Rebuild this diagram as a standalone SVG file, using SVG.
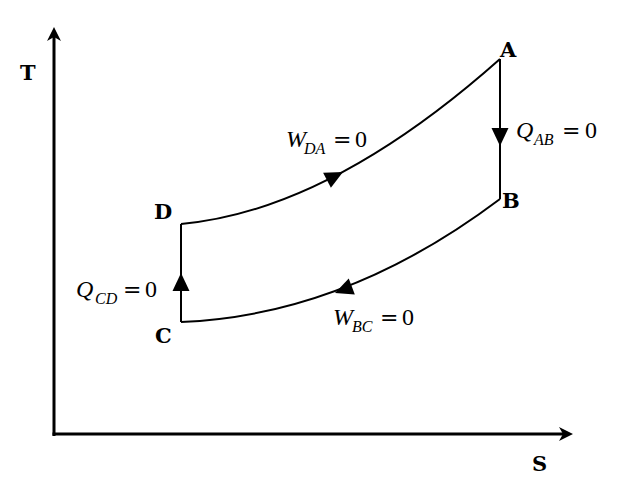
<svg xmlns="http://www.w3.org/2000/svg" width="624" height="496" viewBox="0 0 624 496">
<style>
.axis{stroke:#000;stroke-width:3;fill:none}
.curve{stroke:#000;stroke-width:2;fill:none}
.pt{font-family:"DejaVu Serif","Liberation Serif",serif;font-weight:bold;font-size:21px;fill:#000}
.m{font-family:"Liberation Serif",serif;font-size:24px;fill:#000}
.i{font-style:italic}
.s{font-style:italic;font-size:16px}
.eq{font-family:"DejaVu Serif",serif;font-size:22px}
</style>
<defs>
<path id="ah" d="M0,0 L-18,-8.5 L-18,8.5 Z" fill="#000"/>
<path id="axh" d="M0,0 L-14,-7 L-10,0 L-14,7 Z" fill="#000"/>
</defs>
<g id="axes">
<line class="axis" x1="54" y1="436" x2="54" y2="34"/>
<line class="axis" x1="52.5" y1="434" x2="566" y2="434"/>
<use href="#axh" transform="translate(54,27) rotate(-90)"/>
<use href="#axh" transform="translate(573,434)"/>
<text class="pt" x="20" y="80">T</text>
<text class="pt" x="532" y="471">S</text>
</g>
<g id="connectors">
<path class="curve" d="M181,224 Q329.5,210.5 500,59"/>
<path class="curve" d="M500,59 L500,199"/>
<path class="curve" d="M500,199 Q345.5,315.5 181,322"/>
<path class="curve" d="M181,322 L181,224"/>
<use href="#ah" transform="translate(343,172) rotate(-27.3)"/>
<use href="#ah" transform="translate(500,146) rotate(90)"/>
<use href="#ah" transform="translate(335,293) rotate(158.9)"/>
<use href="#ah" transform="translate(181,273) rotate(-90)"/>
</g>
<g id="node-A"><text class="pt" x="500" y="57">A</text></g>
<g id="node-B"><text class="pt" x="502" y="208">B</text></g>
<g id="node-D"><text class="pt" x="154" y="219">D</text></g>
<g id="node-C"><text class="pt" x="155" y="343">C</text></g>
<g id="label-DA"><text class="m"><tspan class="i" x="286" y="147">W</tspan><tspan class="s" x="304" y="154">DA</tspan><tspan class="eq" x="333" y="147">=</tspan><tspan x="355" y="147">0</tspan></text></g>
<g id="label-AB"><text class="m"><tspan class="i" x="516" y="138">Q</tspan><tspan class="s" x="534" y="145">AB</tspan><tspan class="eq" x="562" y="138">=</tspan><tspan x="585" y="138">0</tspan></text></g>
<g id="label-CD"><text class="m"><tspan class="i" x="76" y="297">Q</tspan><tspan class="s" x="95" y="304">CD</tspan><tspan class="eq" x="123" y="297">=</tspan><tspan x="145" y="297">0</tspan></text></g>
<g id="label-BC"><text class="m"><tspan class="i" x="333" y="325">W</tspan><tspan class="s" x="352" y="332">BC</tspan><tspan class="eq" x="380" y="325">=</tspan><tspan x="402" y="325">0</tspan></text></g>
</svg>
